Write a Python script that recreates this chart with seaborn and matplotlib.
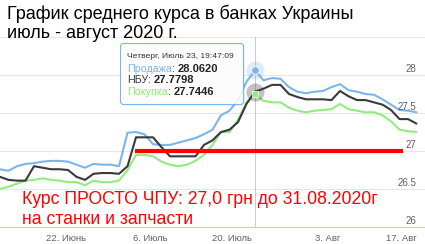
import numpy as np
import pandas as pd
import seaborn as sns
import matplotlib
matplotlib.use("Agg")
import matplotlib.pyplot as plt
import matplotlib.transforms as mtransforms
from matplotlib.patches import FancyBboxPatch

# Average UAH/USD rates, one value per chart point (ordinal axis)
sale = [26.76, 26.74, 26.80, 26.83, 26.84, 26.86, 26.87, 26.87, 26.86, 26.82,
        26.78, 26.83, 26.82, 26.82, 26.80, 27.24, 27.25, 27.22, 27.09, 27.08,
        27.08, 27.11, 27.14, 27.17, 27.22, 27.28, 27.47, 27.53, 27.67, 27.91,
        28.062, 27.93, 27.96, 27.95, 27.84, 27.78, 27.76, 27.78, 27.79, 27.84,
        27.88, 27.80, 27.78, 27.75, 27.74, 27.68, 27.61, 27.54, 27.53, 27.51]
nbu = [26.66, 26.62, 26.61, 26.61, 26.80, 26.78, 26.76, 26.76, 26.75, 26.66,
       26.62, 26.70, 26.71, 26.71, 26.70, 26.80, 27.18, 27.18, 27.18, 27.05,
       26.93, 26.93, 26.93, 26.93, 27.08, 27.14, 27.25, 27.28, 27.38, 27.62,
       27.7798, 27.82, 27.87, 27.87, 27.75, 27.71, 27.68, 27.68, 27.68, 27.67,
       27.79, 27.72, 27.67, 27.67, 27.64, 27.61, 27.54, 27.42, 27.42, 27.36]
buy = [26.50, 26.53, 26.57, 26.61, 26.62, 26.64, 26.62, 26.61, 26.59, 26.59,
       26.55, 26.61, 26.59, 26.59, 26.61, 26.75, 26.95, 26.95, 26.93, 26.86,
       26.82, 26.80, 26.82, 26.87, 26.95, 27.08, 27.25, 27.25, 27.41, 27.64,
       27.7446, 27.66, 27.64, 27.64, 27.57, 27.53, 27.51, 27.53, 27.54, 27.55,
       27.62, 27.55, 27.53, 27.51, 27.51, 27.47, 27.39, 27.28, 27.26, 27.25]

series_names = ["Продажа", "НБУ", "Покупка"]
series_colors = ["#7cb5ec", "#3a3a3c", "#90ed7d"]

tick_pos = [0.35, 7.76, 17.65, 27.3, 38.6, 48.5]
tick_labels = ["", "22. Июнь", "6. Июль", "20. Июль", "3. Авг", "17. Авг"]
y_ticks = [26, 26.5, 27, 27.5, 28]

offer_rate = 27.0
offer_from, offer_to = 15.9, 47.4
hover_idx = 30
hover_title = "Четверг, Июль 23, 19:47:09"

title_lines = ["График среднего курса в банках Украины", "июль - август 2020 г."]
offer_lines = ["Курс ПРОСТО ЧПУ: 27,0 грн до 31.08.2020г", "на станки и запчасти"]

df = pd.DataFrame({"point": np.arange(len(sale)),
                   "Продажа": sale, "НБУ": nbu, "Покупка": buy})
long_df = df.melt(id_vars="point", var_name="series", value_name="rate")

sns.set_style("white")
plt.rcParams["font.family"] = ["Liberation Sans", "DejaVu Sans"]

W, H = 425, 244
fig = plt.figure(figsize=(W / 100, H / 100), dpi=100)
ax = fig.add_axes([0, 1 - 227 / H, 1, 190 / H])

palette = dict(zip(series_names, series_colors))
sns.lineplot(data=long_df, x="point", y="rate", hue="series",
             hue_order=["Покупка", "Продажа", "НБУ"], palette=palette,
             linewidth=1.5, legend=False, estimator=None, ax=ax, zorder=3)

ax.set_xlim(0, 50)
ax.set_ylim(26, 28.5)
ax.set_yticks(y_ticks + [28.5])
ax.yaxis.set_ticklabels([])
ax.tick_params(axis="y", length=0)
ax.grid(axis="y", color="#e6e6e6", linewidth=0.75)
ax.grid(axis="x", visible=False)
ax.set_axisbelow(True)
for side in ["top", "left", "right"]:
    ax.spines[side].set_visible(False)
ax.spines["bottom"].set_color("#c0d0e0")
ax.spines["bottom"].set_linewidth(0.75)
ax.set_xticks(tick_pos)
ax.set_xticklabels(tick_labels, fontsize=6.8, color="#606060")
ax.tick_params(axis="x", length=4, width=0.75, color="#c0d0e0", pad=1.0)
ax.set_xlabel("")
ax.set_ylabel("")

# the last date label is pulled back inside the figure edge
last_label = ax.get_xticklabels()[-1]
last_label.set_horizontalalignment("right")
last_label.set_transform(last_label.get_transform()
                         + mtransforms.ScaledTranslation(5 / 100, 0, fig.dpi_scale_trans))

# y labels sit inside the plot, right-aligned above each gridline
ytrans = mtransforms.blended_transform_factory(ax.transAxes, ax.transData)
ytrans = mtransforms.offset_copy(ytrans, fig=fig, y=1.5, units="dots")
for v in y_ticks:
    ax.text(416 / W, v, f"{v:g}", transform=ytrans, ha="right", va="bottom",
            fontsize=7, color="#606060")

# crosshair and hovered points
ax.axvline(hover_idx, color="#cccccc", linewidth=0.75, zorder=2)
ax.scatter([hover_idx], [sale[hover_idx]], s=170, color=series_colors[0],
           alpha=0.25, linewidths=0, zorder=6)
ax.scatter([hover_idx], [sale[hover_idx]], s=30, color=series_colors[0],
           edgecolors="white", linewidths=0.6, zorder=7)
ax.scatter([hover_idx], [nbu[hover_idx]], s=170, color=series_colors[1],
           alpha=0.3, linewidths=0, zorder=6)
ax.scatter([hover_idx], [nbu[hover_idx]], s=8, color=series_colors[1],
           linewidths=0, zorder=7)
ax.scatter([hover_idx], [buy[hover_idx]], s=24, marker="s",
           color=series_colors[2], edgecolors="white", linewidths=0.5, zorder=8)

# offer rate line
ax.hlines(offer_rate, offer_from, offer_to, color="#ff0000", linewidth=3,
          zorder=9, capstyle="butt")

# pixel-based transform for the overlay (origin at top-left)
pix = mtransforms.Affine2D().scale(1 / W, -1 / H).translate(0, 1) + fig.transFigure

fig.text(7, 19, title_lines[0], transform=pix, fontsize=13, va="baseline",
         ha="left", color="black")
fig.text(7, 37.5, title_lines[1], transform=pix, fontsize=13, va="baseline",
         ha="left", color="black")
fig.text(22, 204, offer_lines[0], transform=pix, fontsize=12.7, va="baseline",
         ha="left", color="#ff0000", zorder=10)
fig.text(22, 224, offer_lines[1], transform=pix, fontsize=12.7, va="baseline",
         ha="left", color="#ff0000", zorder=10)

# tooltip
shadow = FancyBboxPatch((121.5, 44.5), 123, 61,
                        boxstyle="round,pad=0,rounding_size=3", transform=pix,
                        fc=(0, 0, 0, 0.08), ec="none", zorder=4)
box = FancyBboxPatch((120.5, 43.5), 123, 61,
                     boxstyle="round,pad=0,rounding_size=3", transform=pix,
                     fc=(1, 1, 1, 0.88), ec="#7cb5ec", lw=0.8, zorder=5)
fig.add_artist(shadow)
fig.add_artist(box)
fig.text(127, 56, hover_title, transform=pix, fontsize=6.1, va="center",
         ha="left", color="#333333", zorder=6)

renderer = fig.canvas.get_renderer()
hover_vals = [sale[hover_idx], nbu[hover_idx], buy[hover_idx]]
for i, (name, col, val) in enumerate(zip(series_names, series_colors, hover_vals)):
    yy = 69 + 11.3 * i
    t1 = fig.text(127, yy, name, transform=pix, fontsize=7.7, va="center",
                  ha="left", color=col, zorder=6)
    x1 = t1.get_window_extent(renderer=renderer).x1
    t2 = fig.text(x1, H - yy, ": ", transform=mtransforms.IdentityTransform(),
                  fontsize=7.7, va="center", ha="left", color="#333333", zorder=6)
    x2 = t2.get_window_extent(renderer=renderer).x1
    fig.text(x2, H - yy, f"{val:.4f}", transform=mtransforms.IdentityTransform(),
             fontsize=8.0, va="center", ha="left", color="#222222",
             fontweight="bold", zorder=6)

fig.savefig("out.png", dpi=100)
